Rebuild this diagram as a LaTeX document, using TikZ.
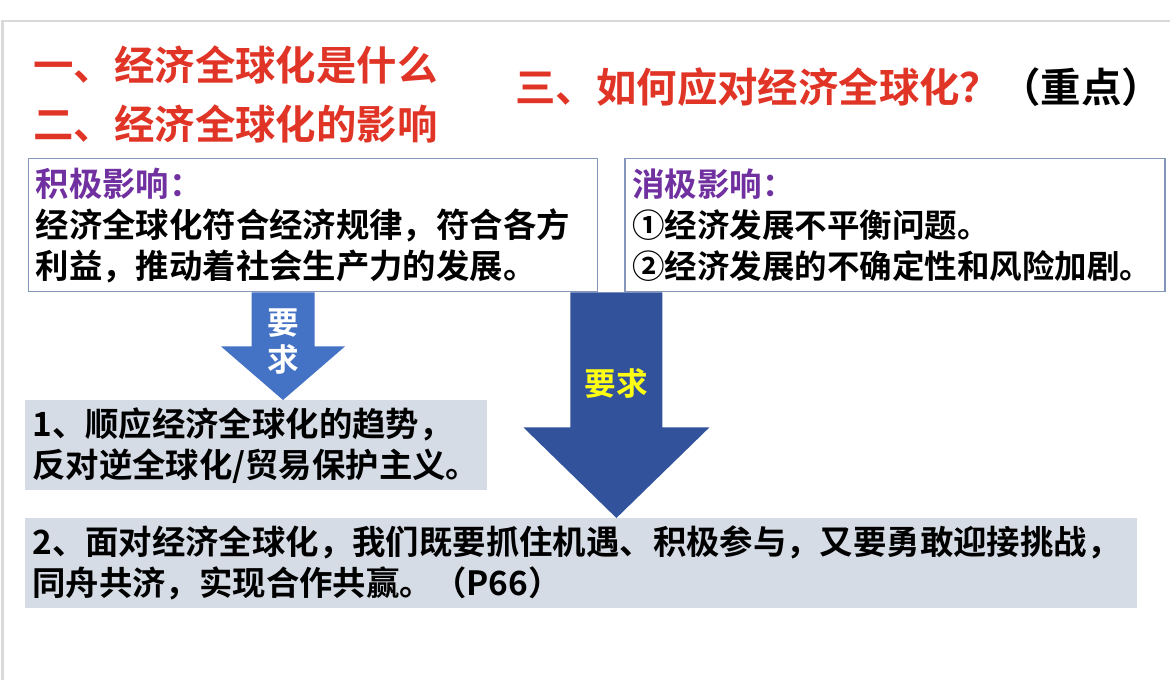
\documentclass[tikz,border=0pt]{standalone}
\usepackage{fontspec}
\setmainfont{Noto Sans CJK SC}[BoldFont={Noto Sans CJK SC Bold}]
\usepackage{tikz}
\usetikzlibrary{positioning,calc}
\definecolor{titleRed}{RGB}{224,52,38}
\definecolor{effectPurple}{RGB}{112,48,160}
\definecolor{boxLine}{RGB}{132,151,186}
\definecolor{boxFill}{RGB}{214,220,229}
\definecolor{askBlue}{RGB}{68,114,196}
\definecolor{askDarkBlue}{RGB}{50,82,155}
\definecolor{askYellow}{RGB}{255,255,20}
\colorlet{frameGray}{black!15}

\begin{document}
\begin{tikzpicture}[every node/.style={font=\fontsize{19}{23.3}\selectfont\bfseries, align=left, inner ysep=0pt},
    title/.style={font=\fontsize{23}{27}\selectfont\bfseries, text=titleRed, inner sep=0pt, anchor=west},
    effectbox/.style={draw=boxLine, line width=0.8pt, fill=white, inner xsep=0.14cm, minimum height=2.66cm, anchor=north west},
    demandbox/.style={fill=boxFill, inner xsep=0.14cm, minimum height=1.8cm, anchor=north west},
    asktext/.style={font=\fontsize{18}{22.7}\selectfont\bfseries, align=center, inner sep=0pt}]
    \useasboundingbox (0,0) rectangle (23.4,-13.94);
    \draw[frameGray, line width=1.4pt] (0.05,-13.6) -- (0.05,-0.42) -- (23.4,-0.42);

    % titles
    \node[title] (what) at (0.66,-1.30) {一、经济全球化是什么};
    \node[title] (impact) at (0.66,-2.48) {二、经济全球化的影响};
    \node[title] (respond) at (10.3,-1.74) {三、如何应对经济全球化？\textcolor{black}{（重点）}};

    % effects
    \node[effectbox, text width=11.1cm] (pos) at (0.56,-3.16)
        {\textcolor{effectPurple}{积极影响：}\\经济全球化符合经济规律，符合各方\\利益，推动着社会生产力的发展。};
    \node[effectbox, text width=10.52cm, right=0.52cm of pos.north east, anchor=north west,
          font=\fontsize{18.5}{23.3}\selectfont\bfseries] (neg)
        {\textcolor{effectPurple}{消极影响：}\\①经济发展不平衡问题。\\②经济发展的不确定性和风险加剧。};

    % requirements
    \node[demandbox, text width=8.96cm] (req1) at (0.5,-8.0)
        {1、顺应经济全球化的趋势，\\反对逆全球化/贸易保护主义。};
    \node[demandbox, text width=21.96cm] (req2) at (0.5,-10.36)
        {2、面对经济全球化，我们既要抓住机遇、积极参与，又要勇敢迎接挑战，\\同舟共济，实现合作共赢。（P66）};

    % arrows
    \coordinate (smalltop) at ($(pos.south west)+(5.1,0)$);
    \coordinate (smalltip) at (smalltop |- req1.north);
    \fill[askBlue] ($(smalltop)+(-0.63,0)$) -- ($(smalltop)+(0.63,0)$) -- ($(smalltop)+(0.63,-1.08)$)
        -- ($(smalltop)+(1.24,-1.08)$) -- (smalltip) -- ($(smalltop)+(-1.24,-1.08)$)
        -- ($(smalltop)+(-0.63,-1.08)$) -- cycle;
    \node[asktext, text=white] (ask1) at ($(smalltop)+(0,-0.98)$) {要\\[-0.05cm]求};

    \coordinate (bigtop) at ($(pos.south east)!0.5!(neg.south west)+(0.1,0)$);
    \coordinate (bigtip) at (bigtop |- req2.north);
    \fill[askDarkBlue] ($(bigtop)+(-0.92,0)$) -- ($(bigtop)+(0.92,0)$) -- ($(bigtop)+(0.92,-2.7)$)
        -- ($(bigtop)+(1.86,-2.7)$) -- (bigtip) -- ($(bigtop)+(-1.86,-2.7)$)
        -- ($(bigtop)+(-0.92,-2.7)$) -- cycle;
    \node[asktext, text=askYellow] (ask2) at ($(bigtop)+(0,-1.82)$) {要求};
\end{tikzpicture}
\end{document}
